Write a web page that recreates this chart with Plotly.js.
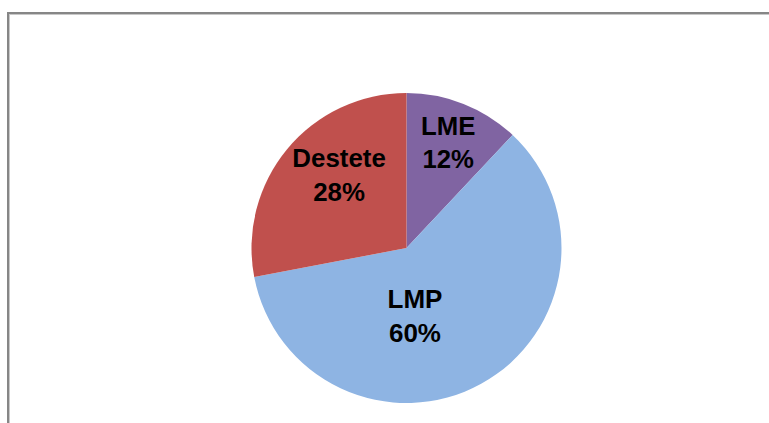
<!DOCTYPE html>
<html>
<head>
<meta charset="utf-8">
<script src="https://cdn.plot.ly/plotly-3.0.1.min.js"></script>
<style>
  html, body { margin: 0; padding: 0; background: #fff; }
  #wrap { position: relative; width: 769px; height: 423px; overflow: hidden; }
  #chart { position: absolute; left: 0; top: 0; width: 769px; height: 423px; }
  #frame { position: absolute; left: 7px; top: 12px; width: 800px; height: 500px;
           border-top: 2px solid #868686; border-left: 2px solid #868686;
           box-shadow: inset 1px 1px 0 #c8c8c8; pointer-events: none; }
</style>
</head>
<body>
<div id="wrap">
  <div id="chart"></div>
  <div id="frame"></div>
</div>
<script>
const categories = ["LME", "LMP", "Destete"];
const values = [12, 60, 28];
const colors = ["#8064A2", "#8EB4E3", "#C0504D"];

// label layout (padding only nudges where Plotly centres each label block)
const NB = "\u00A0";
const pad = NB.repeat(8);
const labelTemplates = [
  "%{label}<br>%{percent:.0%}",
  "%{label}" + pad + "<br>%{percent:.0%}" + pad,
  "%{label}<br>%{percent:.0%}<br>" + NB
];

const data = [{
  type: "pie",
  labels: categories,
  values: values,
  sort: false,
  direction: "clockwise",
  rotation: 0,
  marker: { colors: colors, line: { width: 0 } },
  textinfo: "label+percent",
  texttemplate: labelTemplates,
  textposition: "inside",
  insidetextorientation: "horizontal",
  textfont: { family: "Liberation Sans, Arial, sans-serif", size: 26, color: "#000000", weight: "bold" },
  hoverinfo: "none",
  showlegend: false
}];

const layout = {
  width: 769,
  height: 423,
  margin: { l: 50, r: 6, t: 93, b: 20 },
  paper_bgcolor: "#ffffff",
  plot_bgcolor: "#ffffff",
  showlegend: false
};

Plotly.newPlot("chart", data, layout, { displayModeBar: false, staticPlot: true });
</script>
</body>
</html>
